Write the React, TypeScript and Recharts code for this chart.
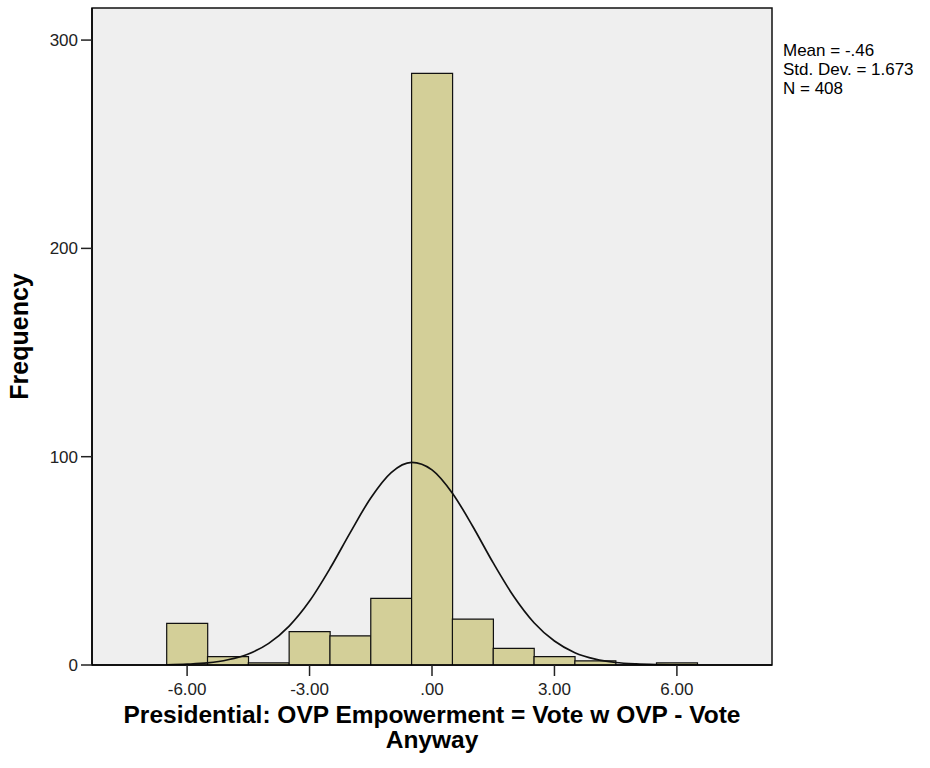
import React from 'react';
import { ComposedChart, Bar, Line, XAxis, YAxis, CartesianGrid, ReferenceArea } from 'recharts';

// Histogram bins (bin centres) and frequencies
const binCenters = [-6, -5, -4, -3, -2, -1, 0, 1, 2, 3, 4, 5, 6];
const frequencies = [20, 4, 1, 16, 14, 32, 284, 22, 8, 4, 2, 0, 1];

// Normal curve
const curveX = [-6.5, -6, -5.5, -5, -4.5, -4, -3.5, -3, -2.5, -2, -1.5, -1, -0.5, 0, 0.5, 1, 1.5, 2, 2.5, 3, 3.5, 4, 4.5, 5, 5.5, 6, 6.5];
const curveY = [0.1, 0.4, 1.0, 2.5, 5.3, 10.4, 18.7, 30.7, 46.3, 63.7, 80.2, 92.4, 97.3, 93.7, 82.5, 66.5, 49.0, 33.0, 20.3, 11.5, 5.9, 2.8, 1.2, 0.5, 0.2, 0.1, 0.0];

const xTicks = [-6, -3, 0, 3, 6];
const yTicks = [0, 100, 200, 300];
const statLines = ['Mean = -.46', 'Std. Dev. = 1.673', 'N = 408'];
const xTitleLines = ['Presidential: OVP Empowerment = Vote w OVP - Vote', 'Anyway'];
const yTitle = 'Frequency';

const X_DOMAIN: [number, number] = [-8.33, 8.33];
const Y_DOMAIN: [number, number] = [0, 315.4];

const barData = binCenters.map((x, i) => ({ x, freq: frequencies[i] }));
const curveData = curveX.map((x, i) => ({ x, fit: curveY[i] }));

const FONT = '"Liberation Sans", Arial, sans-serif';

const fmtX = (v: number) => (v === 0 ? '.00' : v.toFixed(2));

const XTitle = (props: any) => {
  const vb = props.viewBox || {};
  const cx = vb.x + vb.width / 2;
  return (
    <g fontFamily={FONT} fontWeight="bold" fontSize={24.5} fill="#000">
      <text x={cx} y={vb.y + 58} textAnchor="middle">{xTitleLines[0]}</text>
      <text x={cx} y={vb.y + 83} textAnchor="middle">{xTitleLines[1]}</text>
    </g>
  );
};

const YTitle = (props: any) => {
  const vb = props.viewBox || {};
  const cx = 19;
  const cy = vb.y + vb.height / 2;
  return (
    <text x={cx} y={cy} transform={`rotate(-90, ${cx}, ${cy})`} textAnchor="middle" dominantBaseline="central"
      fontFamily={FONT} fontWeight="bold" fontSize={25} fill="#000">{yTitle}</text>
  );
};

export default function App() {
  return (
    <div style={{ position: 'absolute', left: 0, top: 0, width: 930, height: 768, background: '#fff' }}>
      <ComposedChart width={930} height={768} data={barData}
        margin={{ top: 8, right: 158, bottom: 0, left: 0 }} barCategoryGap={0} barGap={0}>
        <CartesianGrid fill="#efefef" horizontal={false} vertical={false} />
        <XAxis dataKey="x" type="number" domain={X_DOMAIN} allowDataOverflow ticks={xTicks}
          tickFormatter={fmtX} height={103} tickSize={11} tickMargin={7}
          axisLine={{ stroke: '#000', strokeWidth: 1.5 }} tickLine={{ stroke: '#222', strokeWidth: 1.5 }}
          tick={{ fill: '#222', fontSize: 17, fontFamily: FONT }} interval={0}
          label={{ content: XTitle }} />
        <XAxis xAxisId="curve" dataKey="x" type="number" domain={X_DOMAIN} allowDataOverflow hide />
        <YAxis type="number" domain={Y_DOMAIN} allowDataOverflow ticks={yTicks} width={92}
          tickSize={11} tickMargin={3}
          axisLine={{ stroke: '#000', strokeWidth: 1.5 }} tickLine={{ stroke: '#222', strokeWidth: 1.5 }}
          tick={{ fill: '#222', fontSize: 17, fontFamily: FONT }} interval={0}
          label={{ content: YTitle }} />
        <ReferenceArea x1={X_DOMAIN[0]} x2={X_DOMAIN[1]} y1={Y_DOMAIN[0]} y2={Y_DOMAIN[1]}
          fill="none" fillOpacity={0} stroke="#111" strokeWidth={1.5} />
        <Bar dataKey="freq" fill="#D3CF98" stroke="#111" strokeWidth={1.2} isAnimationActive={false} />
        <Line xAxisId="curve" data={curveData} dataKey="fit" type="monotone" stroke="#111" strokeWidth={1.7}
          dot={false} activeDot={false} isAnimationActive={false} />
        <g fontFamily={FONT} fontSize={17} fill="#000">
          {statLines.map((s, i) => (
            <text key={i} x={783} y={56 + i * 19.2}>{s}</text>
          ))}
        </g>
      </ComposedChart>
    </div>
  );
}
